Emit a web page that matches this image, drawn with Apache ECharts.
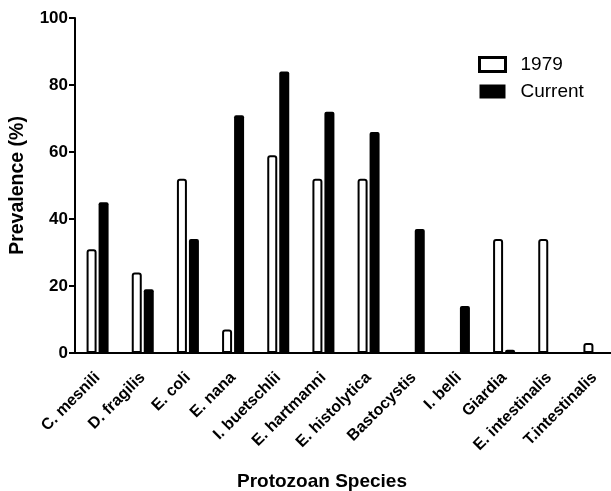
<!DOCTYPE html>
<html>
<head>
<meta charset="utf-8">
<script src="https://cdn.jsdelivr.net/npm/echarts@6/dist/echarts.min.js"></script>
<style>html,body{margin:0;padding:0;background:#fff}#c{width:611px;height:491px}</style>
</head>
<body>
<div id="c"></div>
<script>
var categories = ['C. mesnili','D. fragilis','E. coli','E. nana','I. buetschlii','E. hartmanni','E. histolytica','Bastocystis','I. belli','Giardia','E. intestinalis','T.intestinalis'];
var values1979 = [31, 24, 52, 7, 59, 52, 52, 0, 0, 34, 34, 3];
var valuesCurrent = [45, 19, 34, 71, 84, 72, 66, 37, 14, 1, 0, 0];
var yTicks = [0, 20, 40, 60, 80, 100];

var chart = echarts.init(document.getElementById('c'), null, {renderer: 'canvas'});
var font = 'Liberation Sans, Arial, sans-serif';
chart.setOption({
  animation: false,
  backgroundColor: '#fff',
  grid: {left: 75, width: 542, top: 18, bottom: 138, containLabel: false, outerBoundsMode: 'none'},
  legend: {
    data: [
      {name: '1979', icon: 'rect', itemStyle: {color: '#fff', borderColor: '#000', borderWidth: 3}},
      {name: 'Current', icon: 'rect', itemStyle: {color: '#000'}}
    ],
    orient: 'vertical', left: 478, top: 55, padding: 0,
    itemWidth: 26, itemHeight: 14, itemGap: 8,
    textStyle: {fontFamily: font, fontSize: 19, color: '#000', padding: [0, 0, 0, 10]}
  },
  xAxis: {
    type: 'category', data: categories,
    name: 'Protozoan Species', nameLocation: 'middle', nameGap: 119,
    nameTextStyle: {fontFamily: font, fontWeight: 'bold', fontSize: 19, color: '#000', padding: [0, 48, 0, 0]},
    axisLine: {lineStyle: {color: '#000', width: 2}},
    axisTick: {alignWithLabel: true, length: 6, lineStyle: {color: '#000', width: 2}},
    axisLabel: {rotate: 45, interval: 0, margin: 22, fontFamily: font, fontWeight: 'bold', fontSize: 16, color: '#000'}
  },
  yAxis: {
    type: 'value', min: 0, max: 100, interval: 20,
    name: 'Prevalence (%)', nameLocation: 'middle', nameGap: 47,
    nameTextStyle: {fontFamily: font, fontWeight: 'bold', fontSize: 19.5, color: '#000'},
    axisLine: {show: true, lineStyle: {color: '#000', width: 2}},
    axisTick: {show: true, length: 6, lineStyle: {color: '#000', width: 2}},
    axisLabel: {fontFamily: font, fontWeight: 'bold', fontSize: 17, color: '#000', margin: 7,
      formatter: function (v) { return yTicks.indexOf(v) >= 0 ? String(v) : ''; }},
    splitLine: {show: false}
  },
  series: [
    {name: '1979', type: 'bar', data: values1979, barWidth: 10, barGap: '20%',
      itemStyle: {color: '#fff', borderColor: '#000', borderWidth: 2, borderRadius: [2, 2, 0, 0]}},
    {name: 'Current', type: 'bar', data: valuesCurrent, barWidth: 10,
      itemStyle: {color: '#000', borderRadius: [2, 2, 0, 0]}}
  ]
});
</script>
</body>
</html>
